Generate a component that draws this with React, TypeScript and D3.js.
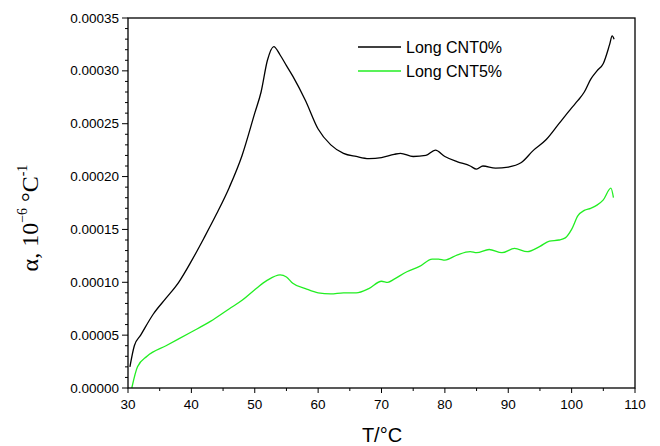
import React from 'react';
import * as d3 from 'd3';

const cnt0T = [30.3, 31, 32, 34, 36, 38, 40, 42, 44, 46, 48, 50, 51, 52, 53, 54, 55, 56, 58, 60, 62, 64, 66, 68, 70, 72, 73, 75, 77, 78.5, 80, 82, 84, 85, 86, 88, 90, 92, 94, 96, 98, 100, 101, 102, 103, 104, 105, 106, 106.4, 106.7];
const cnt0V = [0.00002, 0.00004, 0.00005, 0.00007, 0.000085, 0.0001, 0.00012, 0.000142, 0.000165, 0.00019, 0.00022, 0.00026, 0.00028, 0.00031, 0.000323, 0.000315, 0.000305, 0.000295, 0.000272, 0.000245, 0.00023, 0.000222, 0.000219, 0.000217, 0.000218, 0.000221, 0.000222, 0.000219, 0.00022, 0.000225, 0.000219, 0.000214, 0.00021, 0.000207, 0.00021, 0.000208, 0.000209, 0.000213, 0.000225, 0.000235, 0.00025, 0.000265, 0.000272, 0.00028, 0.000292, 0.0003, 0.000307, 0.000325, 0.000333, 0.00033];
const cnt5T = [30.6, 31.5, 33, 36, 40, 43, 46, 48, 50, 52, 54, 55, 56, 58, 60, 62, 64, 66, 68, 70, 71, 72, 74, 76, 78, 79, 80, 82, 84, 85, 87, 89, 91, 93, 95, 96.5, 98, 99, 100, 101, 102, 103, 104, 105, 106.2, 106.6];
const cnt5V = [0, 0.00002, 0.00003, 0.00004, 0.000053, 0.000063, 0.000075, 0.000083, 0.000093, 0.000102, 0.000107, 0.000105, 0.000099, 0.000094, 0.00009, 0.000089, 0.00009, 0.00009, 0.000094, 0.000101, 0.0001, 0.000103, 0.00011, 0.000115, 0.000122, 0.000122, 0.000121, 0.000126, 0.000129, 0.000128, 0.000131, 0.000128, 0.000132, 0.000129, 0.000134, 0.000139, 0.00014, 0.000142, 0.00015, 0.000163, 0.000168, 0.00017, 0.000173, 0.000178, 0.000189, 0.00018];
const xTicks = [30, 40, 50, 60, 70, 80, 90, 100, 110];
const yTicks = [0, 0.00005, 0.0001, 0.00015, 0.0002, 0.00025, 0.0003, 0.00035];
const series = [
  { name: 'Long CNT0%', t: cnt0T, v: cnt0V, color: '#000000' },
  { name: 'Long CNT5%', t: cnt5T, v: cnt5V, color: '#22ee22' },
];

const W = 660, H = 446;
const m = { left: 128, right: 635, top: 18, bottom: 388 };
const font = 'Arial, "Liberation Sans", sans-serif';

export default function App() {
  const x = d3.scaleLinear().domain([30, 110]).range([m.left, m.right]);
  const y = d3.scaleLinear().domain([0, 0.00035]).range([m.bottom, m.top]);
  const line = d3.line<[number, number]>().x(d => x(d[0])).y(d => y(d[1])).curve(d3.curveMonotoneX);
  const xMinor = d3.range(35, 110, 10);
  const yMinor = d3.range(0, 0.000351, 0.00001).filter(v => Math.abs(Math.round(v / 0.00005) * 0.00005 - v) > 1e-9);
  return (
    <svg width={W} height={H} style={{ position: 'absolute', left: 0, top: 0 }}>
      <rect x={0} y={0} width={W} height={H} fill="#fff" />
      {series.map(s => (
        <path key={s.name} d={line(s.t.map((t, i) => [t, s.v[i]] as [number, number])) || ''} fill="none" stroke={s.color} strokeWidth={1.3} />
      ))}
      <rect x={m.left} y={m.top} width={m.right - m.left} height={m.bottom - m.top} fill="none" stroke="#000" strokeWidth={1.3} />
      {xTicks.map(t => (
        <g key={t}>
          <line x1={x(t)} x2={x(t)} y1={m.bottom} y2={m.bottom + 5} stroke="#000" />
          <text x={x(t)} y={m.bottom + 21} textAnchor="middle" fontSize={13.5} fontFamily={font}>{t}</text>
        </g>
      ))}
      {xMinor.map(t => <line key={t} x1={x(t)} x2={x(t)} y1={m.bottom} y2={m.bottom + 3} stroke="#000" />)}
      {yTicks.map(t => (
        <g key={t}>
          <line x1={m.left - 6} x2={m.left} y1={y(t)} y2={y(t)} stroke="#000" />
          <text x={m.left - 9} y={y(t) + 4.5} textAnchor="end" fontSize={13.5} fontFamily={font}>{t.toFixed(5)}</text>
        </g>
      ))}
      {yMinor.map(t => <line key={t} x1={m.left - 3} x2={m.left} y1={y(t)} y2={y(t)} stroke="#000" />)}
      {series.map((s, i) => (
        <g key={s.name} transform={`translate(358,${47 + i * 24})`}>
          <line x1={0} x2={43} y1={0} y2={0} stroke={s.color} strokeWidth={1.3} />
          <text x={48} y={6} fontSize={16} fontFamily={font}>{s.name}</text>
        </g>
      ))}
      <text x={382} y={442} textAnchor="middle" fontSize={20} fontFamily={font}>T/°C</text>
      <text transform="translate(38,218) rotate(-90)" textAnchor="middle" fontSize={24} fontFamily='"Liberation Serif", "Times New Roman", serif'>
        α, 10<tspan dy={-11} fontSize={14}>−6</tspan><tspan dy={11}> °C</tspan><tspan dy={-11} fontSize={14}>-1</tspan>
      </text>
    </svg>
  );
}
